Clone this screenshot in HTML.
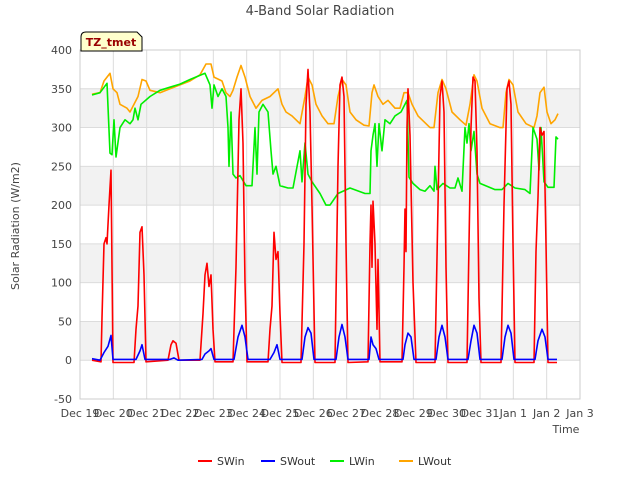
<!DOCTYPE html>
<html><head><meta charset="utf-8"><style>
body{margin:0;background:#fff;font-family:"Liberation Sans","DejaVu Sans",sans-serif}
svg text{font-family:"DejaVu Sans","Liberation Sans",sans-serif}
</style></head><body>
<svg id="chart" width="640" height="480" viewBox="0 0 640 480">
<rect width="640" height="480" fill="#fff"/>
<text x="320" y="15" text-anchor="middle" font-size="13" fill="#444">4-Band Solar Radiation</text>
<g id="grid"></g>
<g id="series"></g>
<g id="axes"></g>
<text x="19" y="226" transform="rotate(-90 19 226)" text-anchor="middle" font-size="11" fill="#444">Solar Radiation (W/m2)</text>
<text x="566" y="433" text-anchor="middle" font-size="11" fill="#444">Time</text>
<g>
<path d="M81,51 L81,37 Q81,32 86,32 L137,32 L142,37 L142,51 Z" fill="#ffffcc" stroke="#000" stroke-width="1"/>
<text x="111" y="46" text-anchor="middle" font-size="11" font-weight="bold" fill="#990000">TZ_tmet</text>
</g>
<g id="legend"></g>
</svg>
<script>
const yTicks=[-50,0,50,100,150,200,250,300,350,400];
const xTickLabels=["Dec 19","Dec 20","Dec 21","Dec 22","Dec 23","Dec 24","Dec 25","Dec 26","Dec 27","Dec 28","Dec 29","Dec 30","Dec 31","Jan 1","Jan 2","Jan 3"];
const seriesNames=["SWin","SWout","LWin","LWout"];
const seriesColors=["#ff0000","#0000ff","#00ee00","#ffa500"];
// time in days since Dec 19 00:00
const swinT=[0.36,0.63,0.66,0.72,0.78,0.81,0.87,0.93,0.99,1.62,1.68,1.74,1.80,1.86,1.92,1.98,2.64,2.73,2.79,2.88,2.97,3.60,3.69,3.75,3.81,3.87,3.93,3.99,4.05,4.59,4.68,4.77,4.83,4.89,4.95,5.01,5.64,5.70,5.76,5.82,5.88,5.94,6.00,6.06,6.63,6.72,6.78,6.84,6.90,6.96,7.05,7.65,7.74,7.80,7.86,7.92,7.98,8.04,8.64,8.70,8.73,8.76,8.79,8.85,8.91,8.94,9.00,9.66,9.72,9.75,9.78,9.81,9.84,9.90,9.99,10.08,10.65,10.74,10.80,10.86,10.92,10.98,11.04,11.61,11.67,11.73,11.79,11.85,11.91,11.97,12.03,12.63,12.72,12.81,12.87,12.93,12.99,13.05,13.62,13.68,13.74,13.80,13.86,13.92,13.98,14.04,14.31];
const swinV=[0,-2,55,150,158,150,200,245,-3,-3,40,70,165,172,110,-2,0,20,25,22,0,0,60,110,125,95,110,40,-2,-2,120,310,350,280,100,-2,-2,40,70,165,130,140,60,-3,-3,150,330,375,320,200,-3,-3,250,355,365,340,150,-3,-2,150,200,120,205,150,40,130,-2,-2,120,195,140,300,350,290,100,-3,-3,200,340,360,320,120,-3,-3,150,300,365,360,270,80,-3,-3,200,350,360,330,150,-3,-3,140,210,300,290,295,150,-3,-3];
const swoutT=[0.36,0.60,0.72,0.84,0.93,0.99,1.68,1.80,1.86,1.95,2.70,2.82,2.94,3.66,3.75,3.87,3.93,4.02,4.62,4.74,4.86,4.95,5.04,5.70,5.82,5.91,6.00,6.66,6.75,6.84,6.93,7.02,7.68,7.77,7.86,7.95,8.04,8.67,8.73,8.79,8.88,8.97,9.69,9.75,9.84,9.93,10.02,10.68,10.77,10.86,10.95,11.04,11.64,11.73,11.82,11.91,12.00,12.66,12.75,12.84,12.93,13.02,13.65,13.74,13.86,13.95,14.04,14.31];
const swoutV=[2,0,10,18,32,1,1,12,20,1,1,3,0,1,8,12,15,1,1,30,45,30,1,1,10,20,1,1,30,42,35,1,1,30,46,30,1,1,30,20,15,1,1,20,35,30,1,1,30,45,30,1,1,25,45,35,1,1,30,45,35,1,1,25,40,30,1,1];
const lwinT=[0.36,0.60,0.81,0.90,0.96,1.02,1.08,1.20,1.35,1.50,1.59,1.65,1.74,1.83,2.10,2.40,2.70,3.00,3.30,3.75,3.90,3.96,4.02,4.14,4.26,4.38,4.44,4.47,4.53,4.59,4.68,4.80,4.98,5.16,5.25,5.31,5.37,5.49,5.64,5.73,5.79,5.88,6.00,6.24,6.39,6.60,6.66,6.75,6.84,6.96,7.20,7.38,7.50,7.74,8.10,8.55,8.70,8.73,8.79,8.85,8.91,8.97,9.06,9.15,9.30,9.45,9.63,9.81,9.87,9.99,10.20,10.35,10.50,10.62,10.65,10.71,10.89,11.10,11.25,11.34,11.46,11.55,11.61,11.67,11.73,11.82,11.91,12.00,12.45,12.66,12.84,13.05,13.35,13.50,13.59,13.71,13.77,13.83,13.92,14.04,14.22,14.28,14.34];
const lwinV=[342,345,357,267,265,310,262,300,310,305,310,325,310,330,340,348,352,356,362,370,355,325,355,340,350,340,300,250,320,240,235,238,225,225,300,240,320,330,320,270,240,250,225,222,222,270,230,280,240,230,215,200,200,215,222,215,215,270,290,305,250,305,270,310,305,315,320,335,236,228,220,218,225,218,250,220,228,222,222,235,218,300,280,305,270,295,240,228,220,220,228,222,220,215,300,285,245,300,230,223,223,288,285];
const lwoutT=[0.36,0.60,0.72,0.90,0.99,1.11,1.20,1.41,1.50,1.62,1.74,1.86,1.98,2.10,2.40,2.70,3.00,3.30,3.60,3.78,3.93,4.02,4.26,4.38,4.50,4.59,4.71,4.83,4.95,5.10,5.28,5.46,5.70,5.94,6.06,6.18,6.36,6.60,6.75,6.84,6.96,7.08,7.26,7.44,7.62,7.74,7.86,7.98,8.10,8.28,8.52,8.67,8.76,8.82,8.94,9.09,9.24,9.45,9.60,9.72,9.84,9.96,10.14,10.38,10.50,10.62,10.74,10.86,10.98,11.16,11.40,11.58,11.70,11.82,11.91,12.06,12.30,12.60,12.69,12.78,12.87,12.99,13.14,13.38,13.62,13.71,13.80,13.92,14.01,14.13,14.25,14.34];
const lwoutV=[343,345,360,370,350,345,330,325,320,330,340,362,360,348,345,350,355,360,368,382,382,365,360,345,340,348,365,380,365,340,325,335,340,350,330,320,315,305,340,365,355,330,315,305,305,340,362,355,320,310,303,302,345,355,340,330,335,325,325,345,345,330,315,305,300,300,345,362,350,320,310,303,330,368,360,325,305,300,300,345,362,355,320,305,300,315,345,352,320,305,310,318];

const NS='http://www.w3.org/2000/svg';
const X0=80,X1=580,Y0=50,Y1=399,TMIN=0,TMAX=15,VMIN=-50,VMAX=400;
function xs(t){return X0+(t-TMIN)/(TMAX-TMIN)*(X1-X0);}
function ys(v){return Y1-(v-VMIN)/(VMAX-VMIN)*(Y1-Y0);}
function mk(tag,attrs,parent){const e=document.createElementNS(NS,tag);for(const k in attrs)e.setAttribute(k,attrs[k]);parent.appendChild(e);return e;}
const grid=document.getElementById('grid'),axes=document.getElementById('axes'),ser=document.getElementById('series'),leg=document.getElementById('legend');
mk('rect',{x:X0,y:Y0,width:X1-X0,height:Y1-Y0,fill:'#fff'},grid);
for(let i=0;i<yTicks.length-1;i++){
  const lo=yTicks[i],hi=yTicks[i+1];
  if(lo>=0&&((lo/50)%2===0)){
    const r=mk('rect',{x:X0,y:ys(hi),width:X1-X0,height:ys(lo)-ys(hi),fill:'#f2f2f2'},grid);
    
    
  }
}
yTicks.forEach(v=>{
  const l=mk('line',{x1:X0,x2:X1,y1:ys(v),y2:ys(v),stroke:'#dcdcdc','stroke-width':1},grid);
  
  
  const t=mk('text',{x:X0-8,y:ys(v)+4,'text-anchor':'end','font-size':11,fill:'#444'},axes);
  t.textContent=v;
  
  
});
xTickLabels.forEach((s,i)=>{
  const l=mk('line',{x1:xs(i),x2:xs(i),y1:Y0,y2:Y1,stroke:'#dcdcdc','stroke-width':1},grid);
  
  
  const t=mk('text',{x:xs(i),y:Y1+18,'text-anchor':'middle','font-size':11,fill:'#444'},axes);
  t.textContent=s;
  
  
});
const frame=mk('rect',{x:X0,y:Y0,width:X1-X0,height:Y1-Y0,fill:'none',stroke:'#cccccc'},axes);


const data=[[swinT,swinV],[swoutT,swoutV],[lwinT,lwinV],[lwoutT,lwoutV]];
[3,2,0,1].forEach(k=>{
  const [T,V]=data[k];
  const d=T.map((t,i)=>(i?'L':'M')+xs(t).toFixed(1)+','+ys(V[i]).toFixed(1)).join('');
  const p=mk('path',{d:d,fill:'none',stroke:seriesColors[k],'stroke-width':1.6,'stroke-linejoin':'round'},ser);
  
  
});
const legX=[198,261,330,399];
seriesNames.forEach((n,k)=>{
  const g=mk('g',{},leg);
  
  
  mk('line',{x1:legX[k],x2:legX[k]+14,y1:461,y2:461,stroke:seriesColors[k],'stroke-width':2},g);
  const t=mk('text',{x:legX[k]+19,y:465,'font-size':11,fill:'#333'},g);
  t.textContent=n;
});
</script>
</body></html>
